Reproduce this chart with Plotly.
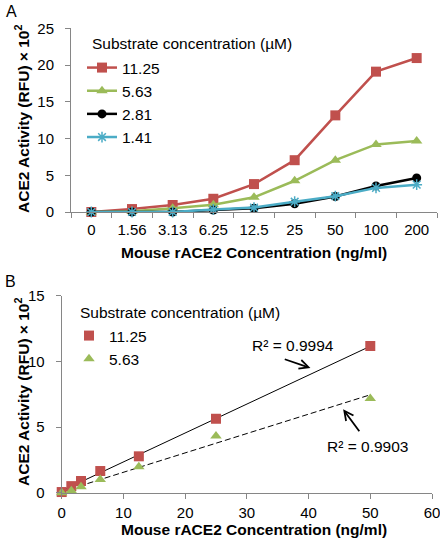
import numpy as np
import plotly.graph_objects as go

# ---------------- data ----------------
# Panel A
conc_labels_a = ["0", "1.56", "3.13", "6.25", "12.5", "25", "50", "100", "200"]
sub_11_25_a = [0.0, 0.4, 0.95, 1.8, 3.8, 7.05, 13.15, 19.1, 20.95]
sub_5_63_a = [0.0, 0.1, 0.5, 1.0, 2.0, 4.25, 7.05, 9.2, 9.65]
sub_2_81_a = [0.0, 0.0, 0.0, 0.27, 0.5, 1.13, 2.1, 3.55, 4.63]
sub_1_41_a = [0.0, 0.0, 0.0, 0.35, 0.6, 1.4, 2.15, 3.28, 3.72]
series_names_a = ["11.25", "5.63", "2.81", "1.41"]

# Panel B
conc_b = [0, 1.56, 3.13, 6.25, 12.5, 25, 50]
sub_11_25_b = [0.05, 0.5, 0.89, 1.65, 2.77, 5.63, 11.17]
sub_5_63_b = [0.0, 0.15, 0.46, 1.0, 1.98, 4.31, 7.18]
r2_labels = ["R² = 0.9994", "R² = 0.9903"]

# ---------------- style ----------------
W, H = 440, 541
FONT = "Liberation Sans, Arial, sans-serif"
RED = "#C0504D"
GREEN = "#9BBB59"
BLACK = "#000000"
CYAN = "#4BACC6"
AXIS_COL = "#868686"
FS = 15.5


def px_x(p):
    return p / W


def px_y(p):
    return (H - p) / H


fig = go.Figure()

# Panel A traces
specs_a = [
    (sub_11_25_a, RED, dict(symbol="square", size=10, color=RED)),
    (sub_5_63_a, GREEN, dict(symbol="triangle-up", size=10, color=GREEN)),
    (sub_2_81_a, BLACK, dict(symbol="circle", size=9, color=BLACK)),
    (sub_1_41_a, CYAN, dict(symbol="asterisk-open", size=9, color=CYAN,
                            line=dict(color=CYAN, width=1.5))),
]
for name, (vals, col, mk) in zip(series_names_a, specs_a):
    fig.add_trace(go.Scatter(
        x=conc_labels_a, y=vals, name=name, mode="lines+markers",
        line=dict(color=col, width=2.5), marker=mk,
        xaxis="x", yaxis="y", legend="legend", cliponaxis=False,
    ))

# Panel B traces
xb = np.array(conc_b, dtype=float)
fit_x = np.array([0.0, max(conc_b)])
for name, vals, col, sym, dash in [
    ("11.25", sub_11_25_b, RED, "square", "solid"),
    ("5.63", sub_5_63_b, GREEN, "triangle-up", "dash"),
]:
    slope, inter = np.polyfit(xb, np.array(vals), 1)
    fig.add_trace(go.Scatter(
        x=fit_x, y=slope * fit_x + inter, mode="lines",
        line=dict(color="black", width=1, dash=("6px,3px" if dash == "dash" else "solid")),
        showlegend=False, xaxis="x2", yaxis="y2", hoverinfo="skip",
    ))
for name, vals, col, sym in [
    ("11.25", sub_11_25_b, RED, "square"),
    ("5.63", sub_5_63_b, GREEN, "triangle-up"),
]:
    fig.add_trace(go.Scatter(
        x=conc_b, y=vals, name=name, mode="markers",
        marker=dict(symbol=sym, size=10, color=col),
        xaxis="x2", yaxis="y2", legend="legend2", cliponaxis=False,
    ))

axis_common = dict(
    showline=True, linecolor=AXIS_COL, linewidth=1,
    ticks="outside", ticklen=5, tickcolor=AXIS_COL, tickwidth=1,
    showgrid=False, zeroline=False, ticklabeloverflow="allow",
    tickfont=dict(family=FONT, size=15, color="black"),
)

fig.update_layout(
    width=W, height=H,
    margin=dict(l=0, r=0, t=0, b=0, autoexpand=False),
    paper_bgcolor="white", plot_bgcolor="white",
    font=dict(family=FONT, size=FS, color="black"),
    xaxis=dict(domain=[px_x(71), px_x(437)], anchor="y", type="category",
               range=[-0.5, 8.5], tickson="boundaries",
               ticklabelstandoff=4, **axis_common),
    yaxis=dict(domain=[px_y(212), px_y(28.3)], anchor="x", range=[0, 25],
               dtick=5, ticklabelstandoff=8, **axis_common),
    xaxis2=dict(domain=[px_x(61.7), px_x(432)], anchor="y2", range=[0, 60],
                dtick=10, ticklabelstandoff=1, **axis_common),
    yaxis2=dict(domain=[px_y(492.7), px_y(295.7)], anchor="x2", range=[0, 15],
                dtick=5, ticklabelstandoff=8, **axis_common),
    legend=dict(x=px_x(82), y=px_y(51), xanchor="left", yanchor="top",
                bgcolor="rgba(0,0,0,0)", font=dict(family=FONT, size=FS),
                tracegroupgap=0),
    legend2=dict(x=px_x(69), y=px_y(319), xanchor="left", yanchor="top",
                 bgcolor="rgba(0,0,0,0)", font=dict(family=FONT, size=FS),
                 tracegroupgap=0),
    showlegend=True,
)

ann = []
# panel letters
ann.append(dict(text="A", x=px_x(4), y=px_y(12), xref="paper", yref="paper",
                xanchor="left", yanchor="middle", showarrow=False,
                font=dict(family=FONT, size=16)))
ann.append(dict(text="B", x=px_x(3), y=px_y(282), xref="paper", yref="paper",
                xanchor="left", yanchor="middle", showarrow=False,
                font=dict(family=FONT, size=16)))
# axis titles
ytitle = "<b>ACE2 Activity (RFU) × 10<sup>2</sup></b>"
xtitle = "<b>Mouse rACE2 Concentration (ng/ml)</b>"
ann.append(dict(text=ytitle, x=px_x(22), y=px_y(119), xref="paper", yref="paper",
                textangle=-90, showarrow=False, xanchor="center", yanchor="middle",
                font=dict(family=FONT, size=FS)))
ann.append(dict(text=ytitle, x=px_x(22), y=px_y(392), xref="paper", yref="paper",
                textangle=-90, showarrow=False, xanchor="center", yanchor="middle",
                font=dict(family=FONT, size=FS)))
ann.append(dict(text=xtitle, x=px_x(254), y=px_y(252), xref="paper", yref="paper",
                showarrow=False, xanchor="center", yanchor="middle",
                font=dict(family=FONT, size=FS)))
ann.append(dict(text=xtitle, x=px_x(254), y=px_y(529), xref="paper", yref="paper",
                showarrow=False, xanchor="center", yanchor="middle",
                font=dict(family=FONT, size=FS)))
# legend titles
ann.append(dict(text="Substrate concentration (µM)", x=px_x(90), y=px_y(43),
                xref="paper", yref="paper", showarrow=False, xanchor="left",
                yanchor="middle", font=dict(family=FONT, size=FS)))
ann.append(dict(text="Substrate concentration (µM)", x=px_x(78), y=px_y(312),
                xref="paper", yref="paper", showarrow=False, xanchor="left",
                yanchor="middle", font=dict(family=FONT, size=FS)))
# R² labels
ann.append(dict(text=r2_labels[0], x=37.4, y=11.2, xref="x2", yref="y2",
                showarrow=False, xanchor="center", yanchor="middle",
                font=dict(family=FONT, size=FS)))
ann.append(dict(text=r2_labels[1], x=49.5, y=3.5, xref="x2", yref="y2",
                showarrow=False, xanchor="center", yanchor="middle",
                font=dict(family=FONT, size=FS)))
# arrows
ann.append(dict(text="", x=40.3, y=9.5, ax=35.9, ay=10.2, xref="x2", yref="y2",
                axref="x2", ayref="y2", showarrow=True, arrowhead=5,
                arrowsize=1, arrowwidth=1.8, arrowcolor="black"))
ann.append(dict(text="", x=45.6, y=6.35, ax=48.4, ay=4.57, xref="x2", yref="y2",
                axref="x2", ayref="y2", showarrow=True, arrowhead=5,
                arrowsize=1, arrowwidth=1.8, arrowcolor="black"))
fig.update_layout(annotations=ann)

fig.write_html("out.html", config={"displayModeBar": False},
               post_script="document.body.style.margin='0px';")
